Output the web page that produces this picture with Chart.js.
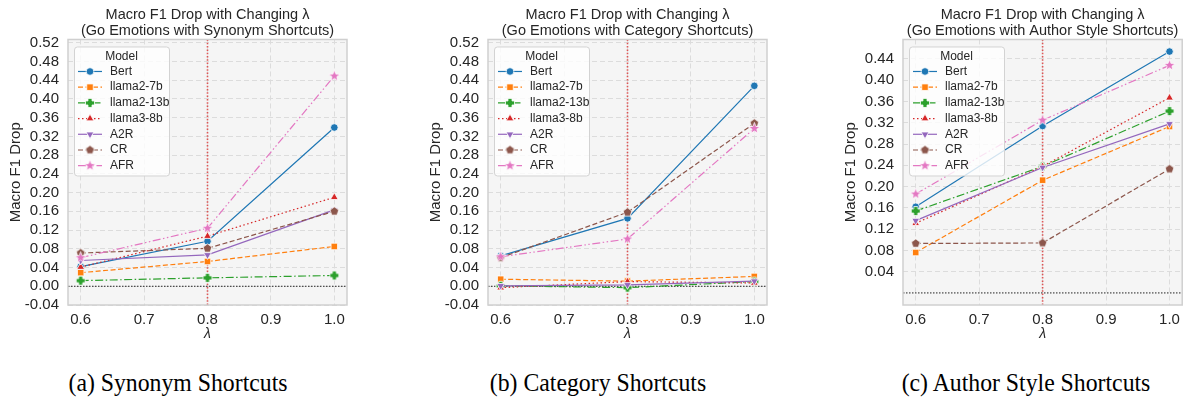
<!DOCTYPE html>
<html>
<head>
<meta charset="utf-8">
<script src="https://cdn.jsdelivr.net/npm/chart.js@4.4.1/dist/chart.umd.min.js"></script>
<style>
  body { margin: 0; background: #fff; width: 1188px; height: 399px; position: relative; overflow: hidden; }
  .panel { position: absolute; top: 0; height: 345px; }
  .caption { position: absolute; top: 370px; line-height: 26px; font-family: "Liberation Serif", "Times New Roman", serif; font-size: 25px; color: #000; white-space: nowrap; transform: translateX(-50%) scaleX(0.95); }
</style>
</head>
<body>
<div class="panel" style="left:0;width:355px"><canvas id="synonym"></canvas></div>
<div class="panel" style="left:420px;width:355px"><canvas id="category"></canvas></div>
<div class="panel" style="left:835px;width:353px"><canvas id="author"></canvas></div>
<div class="caption" style="left:178px">(a) Synonym Shortcuts</div>
<div class="caption" style="left:598px">(b) Category Shortcuts</div>
<div class="caption" style="left:1026px">(c) Author Style Shortcuts</div>

<script>
// lambda values and models
const lambdas = [0.6, 0.8, 1.0];
const models = ['Bert', 'llama2-7b', 'llama2-13b', 'llama3-8b', 'A2R', 'CR', 'AFR'];
const markLambda = 0.8;

// Macro F1 drop, one row per model (same order as models)
const synonymDrops = [
  [0.042, 0.096, 0.339],
  [0.029, 0.053, 0.085],
  [0.012, 0.018, 0.023],
  [0.041, 0.107, 0.190],
  [0.055, 0.067, 0.163],
  [0.071, 0.081, 0.160],
  [0.061, 0.124, 0.449]
];
const categoryDrops = [
  [0.065, 0.145, 0.428],
  [0.015, 0.011, 0.021],
  [0.001, -0.003, 0.010],
  [-0.003, 0.010, 0.007],
  [0.001, 0.003, 0.011],
  [0.061, 0.158, 0.348],
  [0.063, 0.101, 0.337]
];
const authorDrops = [
  [0.162, 0.314, 0.454],
  [0.076, 0.212, 0.313],
  [0.154, 0.238, 0.342],
  [0.131, 0.238, 0.367],
  [0.136, 0.236, 0.318],
  [0.093, 0.094, 0.233],
  [0.186, 0.325, 0.428]
];

// tick labels
const xTicks = [0.6, 0.7, 0.8, 0.9, 1.0];
const yTicksWide = [-0.04, 0.00, 0.04, 0.08, 0.12, 0.16, 0.20, 0.24, 0.28, 0.32, 0.36, 0.40, 0.44, 0.48, 0.52];
const yTicksAuthor = [0.04, 0.08, 0.12, 0.16, 0.20, 0.24, 0.28, 0.32, 0.36, 0.40, 0.44];

const colors = ['#1f77b4', '#ff7f0e', '#2ca02c', '#d62728', '#9467bd', '#8c564b', '#e377c2'];
const dashes = [[], [5, 2.5], [8, 2.5, 1.5, 2.5], [1.5, 2.5], [], [5, 2.5], [8, 2.5, 1.5, 2.5, 1.5, 2.5]];

const FONT = '"Liberation Sans", Arial, sans-serif';
const INK = '#262626';
Chart.defaults.font.family = FONT;
Chart.defaults.color = INK;

// filled marker shapes that chart.js does not have
function markerImage(kind, color, r) {
  const c = document.createElement('canvas');
  const s = Math.ceil(r * 2 + 3);
  c.width = s; c.height = s;
  const g = c.getContext('2d');
  const m = s / 2;
  g.beginPath();
  if (kind === 'star') {
    for (let k = 0; k < 10; k++) {
      const rad = k % 2 ? r * 0.42 : r;
      const an = -Math.PI / 2 + k * Math.PI / 5;
      g.lineTo(m + rad * Math.cos(an), m + rad * Math.sin(an));
    }
  } else if (kind === 'pentagon') {
    for (let k = 0; k < 5; k++) {
      const an = -Math.PI / 2 + k * 2 * Math.PI / 5;
      g.lineTo(m + r * Math.cos(an), m + r * Math.sin(an));
    }
  } else if (kind === 'plus') {
    const t = r * 0.45;
    const pts = [[-t, -r], [t, -r], [t, -t], [r, -t], [r, t], [t, t], [t, r], [-t, r], [-t, t], [-r, t], [-r, -t], [-t, -t]];
    pts.forEach(p => g.lineTo(m + p[0], m + p[1]));
  }
  g.closePath();
  g.fillStyle = color;
  g.fill();
  g.strokeStyle = '#fff';
  g.lineWidth = 0.8;
  g.stroke();
  return c;
}

const markers = [
  { style: 'circle', radius: 3.8 },
  { style: 'rect', radius: 4.6 },
  { style: markerImage('plus', colors[2], 4.5), radius: 4 },
  { style: 'triangle', radius: 4.5 },
  { style: 'triangle', radius: 4.5, rotation: 180 },
  { style: markerImage('pentagon', colors[5], 4.6), radius: 4 },
  { style: markerImage('star', colors[6], 6), radius: 5 }
];

// plot background, zero line and lambda marker line
const decor = {
  id: 'decor',
  beforeDraw(chart) {
    const a = chart.chartArea, ctx = chart.ctx;
    ctx.save();
    ctx.fillStyle = '#f5f5f5';
    ctx.fillRect(a.left, a.top, a.right - a.left, a.bottom - a.top);
    ctx.restore();
  },
  beforeDatasetsDraw(chart) {
    const a = chart.chartArea, ctx = chart.ctx;
    const y0 = chart.scales.y.getPixelForValue(0);
    const xm = chart.scales.x.getPixelForValue(markLambda);
    ctx.save();
    ctx.strokeStyle = '#222';
    ctx.lineWidth = 1;
    ctx.setLineDash([1.5, 1.5]);
    ctx.beginPath();
    ctx.moveTo(a.left, y0);
    ctx.lineTo(a.right, y0);
    ctx.stroke();
    ctx.strokeStyle = 'rgba(220,50,50,0.8)';
    ctx.lineWidth = 1.6;
    ctx.setLineDash([1.5, 1.8]);
    ctx.beginPath();
    ctx.moveTo(xm, a.top);
    ctx.lineTo(xm, a.bottom);
    ctx.stroke();
    ctx.restore();
  },
  afterDraw(chart) {
    const a = chart.chartArea, ctx = chart.ctx;
    ctx.save();
    ctx.strokeStyle = '#cfcfcf';
    ctx.lineWidth = 1.5;
    ctx.strokeRect(a.left, a.top, a.right - a.left, a.bottom - a.top);

    // legend box in the upper left corner
    const x = a.left + 6, y = a.top + 7, w = 95, h = 129;
    ctx.fillStyle = 'rgba(255,255,255,0.8)';
    ctx.strokeStyle = '#d3d3d3';
    ctx.lineWidth = 1;
    ctx.beginPath();
    ctx.roundRect(x + 0.5, y + 0.5, w, h, 3);
    ctx.fill();
    ctx.stroke();
    ctx.font = '12px ' + FONT;
    ctx.textBaseline = 'middle';
    ctx.fillStyle = INK;
    ctx.textAlign = 'center';
    ctx.fillText('Model', x + w / 2, y + 10);
    chart.data.datasets.forEach((ds, i) => {
      const ly = y + 25 + i * 15.7;
      ctx.strokeStyle = ds.borderColor;
      ctx.lineWidth = ds.borderWidth;
      ctx.setLineDash(ds.borderDash);
      ctx.beginPath();
      ctx.moveTo(x + 4, ly);
      ctx.lineTo(x + 28, ly);
      ctx.stroke();
      ctx.setLineDash([]);
      ctx.fillStyle = ds.borderColor;
      ctx.strokeStyle = '#fff';
      ctx.lineWidth = 0.8;
      Chart.helpers.drawPoint(ctx, {
        pointStyle: ds.pointStyle, rotation: ds.pointRotation || 0,
        radius: ds.pointRadius, borderWidth: 0.8
      }, x + 16, ly);
      ctx.fillStyle = INK;
      ctx.textAlign = 'left';
      ctx.fillText(ds.label, x + 36, ly);
    });
    ctx.restore();
  }
};

function makeChart(id, subtitle, drops, yTicks, yMin, yMax, rightPad) {
  const datasets = models.map((name, i) => ({
    label: name,
    data: lambdas.map((l, j) => ({ x: l, y: drops[i][j] })),
    borderColor: colors[i],
    backgroundColor: colors[i],
    borderWidth: 1.2,
    borderDash: dashes[i],
    pointStyle: markers[i].style,
    pointRadius: markers[i].radius,
    pointRotation: markers[i].rotation || 0,
    pointBorderColor: '#fff',
    pointBorderWidth: 0.8,
    pointBackgroundColor: colors[i],
    order: -i
  }));

  new Chart(document.getElementById(id), {
    type: 'line',
    data: { datasets },
    plugins: [decor],
    options: {
      responsive: true,
      maintainAspectRatio: false,
      animation: false,
      layout: { padding: { top: 0, right: rightPad, bottom: 0, left: 0 } },
      plugins: {
        legend: { display: false },
        tooltip: { enabled: false },
        title: {
          display: true,
          fullSize: false,
          text: ['Macro F1 Drop with Changing λ', subtitle],
          font: { size: 14.5, weight: 'normal', lineHeight: 1.12 },
          color: INK,
          padding: { top: 7, bottom: 0 }
        }
      },
      scales: {
        x: {
          type: 'linear',
          min: 0.58,
          max: 1.02,
          afterFit: s => { s.height = 40; },
          afterBuildTicks: s => { s.ticks = xTicks.map(v => ({ value: v })); },
          ticks: { font: { size: 15 }, padding: 6, autoSkip: false, maxRotation: 0, callback: v => v.toFixed(1) },
          grid: { color: '#dcdcdc', drawTicks: false },
          border: { display: false, dash: [5, 3] },
          title: { display: true, text: 'λ', font: { size: 14, style: 'italic' }, padding: { top: 0, bottom: 2 } }
        },
        y: {
          min: yMin,
          max: yMax,
          afterFit: s => { s.width = 68; },
          afterBuildTicks: s => { s.ticks = yTicks.map(v => ({ value: v })); },
          ticks: { font: { size: 15 }, padding: 9, autoSkip: false, callback: v => v.toFixed(2) },
          grid: { color: '#dcdcdc', drawTicks: false },
          border: { display: false, dash: [5, 3] },
          title: { display: true, text: 'Macro F1 Drop', font: { size: 15 }, padding: { top: 7, bottom: 0 } }
        }
      }
    }
  });
}

makeChart('synonym', '(Go Emotions with Synonym Shortcuts)', synonymDrops, yTicksWide, -0.04, 0.527, 8);
makeChart('category', '(Go Emotions with Category Shortcuts)', categoryDrops, yTicksWide, -0.04, 0.527, 8);
makeChart('author', '(Go Emotions with Author Style Shortcuts)', authorDrops, yTicksAuthor, -0.0227, 0.4767, 3);
</script>
</body>
</html>
